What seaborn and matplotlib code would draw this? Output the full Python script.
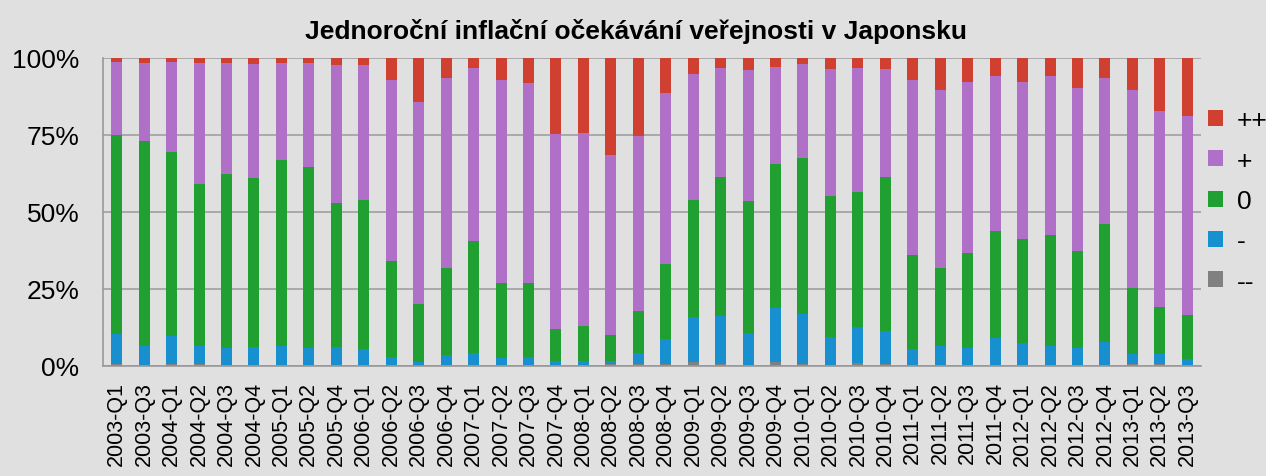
import numpy as np
import pandas as pd
import seaborn as sns
import matplotlib.pyplot as plt
from matplotlib.patches import Patch

sns.set_style("white")
plt.rcParams['font.family'] = ['Liberation Sans', 'DejaVu Sans']
plt.rcParams['text.color'] = 'black'
plt.rcParams['xtick.color'] = 'black'
plt.rcParams['ytick.color'] = 'black'

quarters = ["2003-Q1", "2003-Q3", "2004-Q1", "2004-Q2", "2004-Q3", "2004-Q4",
            "2005-Q1", "2005-Q2", "2005-Q4", "2006-Q1", "2006-Q2", "2006-Q3",
            "2006-Q4", "2007-Q1", "2007-Q2", "2007-Q3", "2007-Q4", "2008-Q1",
            "2008-Q2", "2008-Q3", "2008-Q4", "2009-Q1", "2009-Q2", "2009-Q3",
            "2009-Q4", "2010-Q1", "2010-Q2", "2010-Q3", "2010-Q4", "2011-Q1",
            "2011-Q2", "2011-Q3", "2011-Q4", "2012-Q1", "2012-Q2", "2012-Q3",
            "2012-Q4", "2013-Q1", "2013-Q2", "2013-Q3"]

# podily odpovedi v %
mm = [0.5, 0.3, 0.5, 0.5, 0.2, 0.2, 0.2, 0.2, 0.2, 0.2, 0.2, 0.1, 0.2, 0.2, 0.2, 0.2,
      0.3, 0.3, 0.5, 0.5, 0.6, 1.2, 0.6, 0.3, 1.2, 0.6, 0.3, 0.9, 0.5, 0.4, 0.2, 0.2,
      0.2, 0.2, 0.2, 0.4, 0.2, 0.5, 0.6, 0.2]
m = [10.0, 6.1, 9.1, 5.9, 5.5, 6.1, 6.2, 5.5, 5.9, 5.3, 2.6, 1.1, 3.5, 4.1, 2.3, 2.6,
     1.4, 1.4, 1.0, 3.8, 8.1, 14.6, 15.7, 10.3, 17.5, 16.3, 9.2, 11.7, 11.0, 5.0, 6.3,
     5.5, 8.9, 7.2, 6.4, 5.3, 7.5, 3.4, 3.3, 2.1]
z = [64.5, 66.8, 59.9, 52.8, 56.5, 54.8, 60.5, 58.9, 46.9, 48.3, 31.4, 18.9, 28.2,
     36.4, 24.3, 24.0, 10.4, 11.4, 8.7, 13.6, 24.5, 38.1, 45.2, 43.0, 46.9, 50.6,
     45.6, 44.0, 50.0, 30.7, 25.2, 31.1, 34.8, 33.9, 36.0, 31.7, 38.5, 21.4, 15.1, 14.2]
p = [23.6, 25.3, 29.1, 39.3, 36.1, 36.8, 31.4, 33.7, 44.6, 43.8, 58.5, 65.5, 61.5,
     55.9, 65.9, 65.1, 63.1, 62.4, 58.3, 56.8, 55.3, 41.0, 35.1, 42.5, 31.4, 30.4,
     41.2, 40.2, 34.9, 56.6, 57.9, 55.3, 50.3, 50.9, 51.6, 53.0, 47.4, 64.2, 63.7, 64.7]
pp = [1.4, 1.5, 1.4, 1.5, 1.7, 2.1, 1.7, 1.7, 2.4, 2.4, 7.3, 14.4, 6.6, 3.4, 7.3, 8.1,
      24.8, 24.5, 31.5, 25.3, 11.5, 5.1, 3.4, 3.9, 3.0, 2.1, 3.7, 3.2, 3.6, 7.3, 10.4,
      7.9, 5.8, 7.8, 5.8, 9.6, 6.4, 10.5, 17.3, 18.8]

labels = ["--", "-", "0", "+", "++"]
colors = ["#808080", "#1890d0", "#20a030", "#b070c8", "#d04030"]
ytick_labels = ["0%", "25%", "50%", "75%", "100%"]

df = pd.DataFrame({"q": quarters, "--": mm, "-": m, "0": z, "+": p, "++": pp})
cum = df[labels].cumsum(axis=1)

bg = "#e0e0e0"
fig = plt.figure(figsize=(12.66, 4.77), dpi=100, facecolor=bg)
ax = fig.add_axes([103 / 1266, 1 - 367 / 477, (1201 - 103) / 1266, (367 - 59) / 477])
ax.set_facecolor(bg)

# kresli od nejvyssi kumulativni vrstvy dolu
for lab, col in zip(labels[::-1], colors[::-1]):
    sns.barplot(x=df["q"], y=cum[lab], color=col, saturation=1, width=0.4, ax=ax,
                order=quarters, linewidth=0)

ax.set_xlim(-0.5, len(quarters) - 0.5)
ax.set_ylim(0, 100)
ax.set_yticks([0, 25, 50, 75, 100])
ax.set_yticklabels(ytick_labels, fontsize=19)
ax.set_xticks(range(len(quarters)))
ax.set_xticklabels(quarters, rotation=90, fontsize=15.5)
ax.set_xticks(np.arange(-0.5, len(quarters)), minor=True)
ax.tick_params(axis="x", which="major", length=0, pad=11)
ax.tick_params(axis="x", which="minor", length=5.5, color="#999999", width=1.2)
ax.tick_params(axis="y", length=6, color="#999999", width=1.2, pad=11)
ax.set_xlabel("")
ax.set_ylabel("")
ax.yaxis.grid(True, color="#a0a0a0", lw=1.2)
ax.set_axisbelow(True)
for s in ["top", "right"]:
    ax.spines[s].set_visible(False)
for s in ["left", "bottom"]:
    ax.spines[s].set_color("#999999")
    ax.spines[s].set_linewidth(1.2)

fig.text(0.502, 1 - 31 / 477, "Jednoroční inflační očekávání veřejnosti v Japonsku",
         ha="center", va="center", fontsize=19, fontweight="bold")

handles = [Patch(facecolor=c, edgecolor="none") for c in colors[::-1]]
fig.legend(handles, labels[::-1], loc="center left", bbox_to_anchor=(1208 / 1266, 1 - 202 / 477),
           frameon=False, fontsize=19, handlelength=0.55, handleheight=0.55,
           handletextpad=0.55, labelspacing=0.62, borderpad=0, borderaxespad=0)

fig.savefig("out.png", dpi=100, facecolor=bg)
